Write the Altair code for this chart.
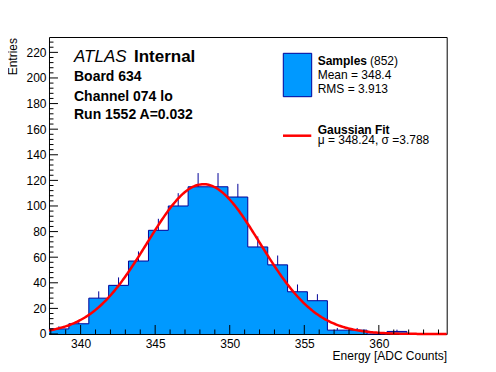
import altair as alt
import numpy as np
import pandas as pd

# ---- data ----
bin_lo = [337.88, 339.21, 340.55, 341.88, 343.21, 344.55, 345.88, 347.21, 348.55, 349.88,
          351.21, 352.55, 353.88, 355.21, 356.55, 357.88, 359.21, 360.55, 361.88, 363.21]
bin_hi = [339.21, 340.55, 341.88, 343.21, 344.55, 345.88, 347.21, 348.55, 349.88, 351.21,
          352.55, 353.88, 355.21, 356.55, 357.88, 359.21, 360.55, 361.88, 363.21, 364.55]
counts = [4, 8, 28, 38, 57, 81, 100, 115, 115, 107, 68, 54, 33, 26, 3, 3, 0, 2, 0, 0]
errors = [2.0, 2.8, 5.3, 6.2, 7.5, 9.0, 10.0, 10.7, 10.7, 10.3, 8.2, 7.3, 5.7, 5.1, 1.7, 1.7, 0, 1.4, 0, 0]

x_major = [340, 345, 350, 355, 360]
x_minor = [338, 339, 341, 342, 343, 344, 346, 347, 348, 349, 351, 352, 353, 354,
           356, 357, 358, 359, 361, 362, 363, 364]
y_major = [0, 20, 40, 60, 80, 100, 120, 140, 160, 180, 200, 220]
y_minor = [4, 8, 12, 16, 24, 28, 32, 36, 44, 48, 52, 56, 64, 68, 72, 76, 84, 88, 92, 96,
           104, 108, 112, 116, 124, 128, 132, 136, 144, 148, 152, 156, 164, 168, 172, 176,
           184, 188, 192, 196, 204, 208, 212, 216, 224, 228]

# Gaussian fit parameters (from legend) and fitted amplitude
fit_mu = 348.24
fit_sigma = 3.788
fit_amp = 117.0

X_DOMAIN = [337.88, 364.55]
Y_DOMAIN = [0, 232]
W, H = 397.7, 297
FONT = "Liberation Sans"
FILL = "#0099FF"
EDGE = "#000099"

bins = pd.DataFrame({"lo": bin_lo, "hi": bin_hi, "n": counts, "err": errors})
bins["mid"] = (bins["lo"] + bins["hi"]) / 2
bins["top"] = bins["n"] + bins["err"]

step = pd.DataFrame({"e": bin_lo + [bin_hi[-1]], "n": counts + [counts[-1]]})

xs = np.linspace(X_DOMAIN[0], X_DOMAIN[1], 300)
curve = pd.DataFrame({"x": xs, "y": fit_amp * np.exp(-0.5 * ((xs - fit_mu) / fit_sigma) ** 2)})

xscale = alt.Scale(domain=X_DOMAIN, nice=False, zero=False)
yscale = alt.Scale(domain=Y_DOMAIN, nice=False, zero=False)

xaxis = alt.Axis(values=x_major, ticks=False, domain=False, grid=False,
                 labelFont=FONT, labelFontSize=12, labelColor="black", labelPadding=5,
                 title="Energy [ADC Counts]", titleFont=FONT, titleFontSize=12,
                 titleFontWeight="normal", titleColor="black", titleX=W, titleY=25.5,
                 titleAlign="right", titleBaseline="alphabetic")
yaxis = alt.Axis(values=y_major, ticks=False, domain=False, grid=False,
                 labelFont=FONT, labelFontSize=12, labelColor="black", labelPadding=3,
                 title=None)


def X(f):
    return alt.X(f, type="quantitative", scale=xscale, axis=xaxis)


def Y(f):
    return alt.Y(f, type="quantitative", scale=yscale, axis=yaxis)


fillarea = alt.Chart(step).mark_area(interpolate="step-after", color=FILL, opacity=1).encode(
    x=X("e"), y=Y("n"), y2=alt.datum(0))

outline = alt.Chart(step).mark_line(interpolate="step-after", color=EDGE, strokeWidth=1).encode(
    x=X("e"), y=Y("n"))

errbars = alt.Chart(bins).mark_rule(color=EDGE, strokeWidth=1).encode(
    x=X("mid"), y=Y("n"), y2="top")

fit = alt.Chart(curve).mark_line(color="#FF0000", strokeWidth=2.5).encode(
    x=X("x"), y=Y("y"))

xmaj = alt.Chart(pd.DataFrame({"v": x_major})).mark_rule(color="black").encode(
    x=X("v"), y=alt.value(H), y2=alt.value(H - 9))
xmin = alt.Chart(pd.DataFrame({"v": x_minor})).mark_rule(color="black").encode(
    x=X("v"), y=alt.value(H), y2=alt.value(H - 4.5))
ymaj = alt.Chart(pd.DataFrame({"v": y_major})).mark_rule(color="black").encode(
    y=Y("v"), x=alt.value(0), x2=alt.value(9))
ymin = alt.Chart(pd.DataFrame({"v": y_minor})).mark_rule(color="black").encode(
    y=Y("v"), x=alt.value(0), x2=alt.value(4.5))

one = pd.DataFrame({"a": [0]})


def txt(s, x, y, size=12, weight="normal", style="normal", align="left",
        baseline="alphabetic", angle=0):
    return alt.Chart(one).mark_text(text=s, font=FONT, fontSize=size, fontWeight=weight,
                                    fontStyle=style, align=align, baseline=baseline,
                                    angle=angle, color="black").encode(
        x=alt.value(x), y=alt.value(y))


labels = [
    txt("Entries", -35.5, 1, 12, align="right", baseline="middle", angle=270),
    txt("ATLAS", 25, 25, 17, style="italic"),
    txt("Internal", 85, 25, 17, weight="bold"),
    txt("Board 634", 25, 44, 14, weight="bold"),
    txt("Channel 074 lo", 25, 63.5, 14, weight="bold"),
    txt("Run 1552 A=0.032", 25, 82, 14, weight="bold"),
    txt("Samples", 268.7, 28, 12, weight="bold"),
    txt("(852)", 321, 28, 12),
    txt("Mean = 348.4", 268.7, 42.3, 12),
    txt("RMS = 3.913", 268.7, 56.3, 12),
    txt("Gaussian Fit", 268.7, 96.5, 12, weight="bold"),
    txt("\u03bc = 348.24, \u03c3 =3.788", 268.7, 107, 12),
]

leg_box = alt.Chart(one).mark_rect(fill=FILL, stroke=EDGE, strokeWidth=1).encode(
    x=alt.value(234.3), x2=alt.value(262.7), y=alt.value(16.3), y2=alt.value(59.7))
leg_line = alt.Chart(one).mark_rule(color="#FF0000", strokeWidth=2.5).encode(
    x=alt.value(234), x2=alt.value(262.3), y=alt.value(98.7))

chart = alt.layer(fillarea, outline, errbars, fit, xmaj, xmin, ymaj, ymin,
                  leg_box, leg_line, *labels).properties(
    width=W, height=H,
    autosize=alt.AutoSizeParams(type="none"),
    padding={"left": 41, "top": 29, "right": 41, "bottom": 30},
    background="white",
).configure_view(stroke="black", strokeWidth=1)

chart.save("out.html", embed_options={"renderer": "svg", "actions": False})
